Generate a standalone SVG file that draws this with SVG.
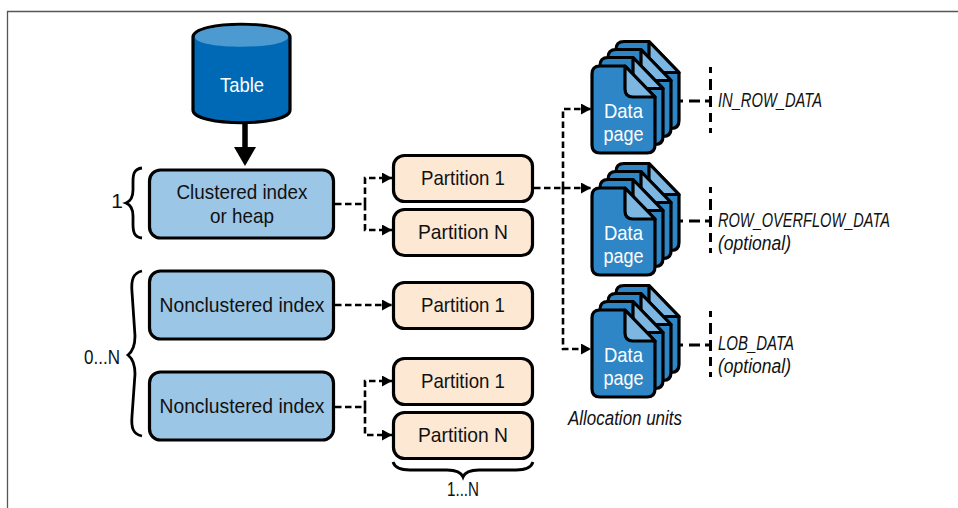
<svg xmlns="http://www.w3.org/2000/svg" width="958" height="508" viewBox="0 0 958 508">
<style>
text{font-family:"Liberation Sans","Noto Sans",sans-serif;font-size:21px;fill:#111;text-anchor:middle}
.w{fill:#fff}
.i{font-style:italic;text-anchor:start;font-size:20px}
.box{fill:#9cc6e6;stroke:#000;stroke-width:3.2}
.part{fill:#fde8d4;stroke:#000;stroke-width:3.2}
.c{fill:none;stroke:#000;stroke-width:2.6;stroke-dasharray:6.500 3.500}
.h{fill:none;stroke:#000;stroke-width:2.8;stroke-dasharray:3 6 11 5 5 99}
.b{fill:none;stroke:#000;stroke-width:2.8}
.tick{fill:none;stroke:#000;stroke-width:3;stroke-dasharray:6 6 11 6 11 6 9 6 5 99}
.pg{fill:#2e86c6;stroke:#000;stroke-width:3.2;stroke-linejoin:round}
.fold{fill:#7db6e0;stroke:#000;stroke-width:3.2;stroke-linejoin:round}
</style>
<defs>
<marker id="ah" markerUnits="userSpaceOnUse" markerWidth="11" markerHeight="12" refX="10" refY="5.500" orient="auto"><path d="M0 0L10 5.500L0 11Z" fill="#000"/></marker>
<g id="sheet">
<path class="pg" d="M600 66H625L655 97V145Q655 153 647 153H600Q592 153 592 145V74Q592 66 600 66Z"/>
<path class="fold" d="M625 66L655 97H633Q625 97 625 89Z"/>
</g>
<g id="stack">
<use href="#sheet" x="24" y="-24.500"/>
<use href="#sheet" x="16" y="-16.500"/>
<use href="#sheet" x="8" y="-8.500"/>
<use href="#sheet"/>
<text class="w" x="623.500" y="118" textLength="39" lengthAdjust="spacingAndGlyphs">Data</text>
<text class="w" x="623.500" y="141" textLength="40" lengthAdjust="spacingAndGlyphs">page</text>
</g>
</defs>
<rect width="958" height="508" fill="#fff"/>
<path id="frame" d="M7.500 508V11.500H958" fill="none" stroke="#555" stroke-width="1.300"/>

<g id="connectors">
<path d="M245 122V150" stroke="#000" stroke-width="5.500" fill="none"/>
<path d="M234 147H256L245 166Z" fill="#000"/>
<path class="c" d="M335 204H365"/>
<path class="c" d="M365 204V178H392" marker-end="url(#ah)"/>
<path class="c" d="M365 204V230H392" marker-end="url(#ah)"/>
<path class="c" d="M335 305H392" marker-end="url(#ah)"/>
<path class="c" d="M335 407H365"/>
<path class="c" d="M365 407V381H392" marker-end="url(#ah)"/>
<path class="c" d="M365 407V435H392" marker-end="url(#ah)"/>
<path class="c" d="M534 188H591" marker-end="url(#ah)"/>
<path class="c" d="M563 188V109H591" marker-end="url(#ah)"/>
<path class="c" d="M563 188V349H591" marker-end="url(#ah)"/>
<path class="h" d="M680 101H710"/>
<path class="h" d="M680 221H710"/>
<path class="h" d="M680 345H710"/>
<path class="tick" d="M710.500 67V135"/>
<path class="tick" d="M710.500 187V255"/>
<path class="tick" d="M710.500 311V379"/>
</g>

<g id="table">
<path d="M193 37C193 20 290 20 290 37V110C290 127 193 127 193 110Z" fill="#0069b5" stroke="#000" stroke-width="3.200"/>
<path d="M195 37C195 22 288 22 288 37C288 50 195 50 195 37Z" fill="#4d9ad0"/>
<text class="w" x="242" y="92" font-size="22" textLength="44" lengthAdjust="spacingAndGlyphs">Table</text>
</g>
<g id="clustered"><rect class="box" x="149.500" y="170" width="184" height="68" rx="11"/>
<text x="242" y="199" textLength="131" lengthAdjust="spacingAndGlyphs">Clustered index</text>
<text x="242" y="223" textLength="64" lengthAdjust="spacingAndGlyphs">or heap</text></g>
<g id="nc1"><rect class="box" x="149.500" y="271" width="184" height="68" rx="11"/>
<text x="242" y="312" textLength="165" lengthAdjust="spacingAndGlyphs">Nonclustered index</text></g>
<g id="nc2"><rect class="box" x="149.500" y="372" width="184" height="68" rx="11"/>
<text x="242" y="413" textLength="165" lengthAdjust="spacingAndGlyphs">Nonclustered index</text></g>

<g id="p1"><rect class="part" x="393.500" y="155.500" width="139" height="46" rx="11"/><text x="463" y="185" textLength="84" lengthAdjust="spacingAndGlyphs">Partition 1</text></g>
<g id="p2"><rect class="part" x="393.500" y="209.500" width="139" height="46" rx="11"/><text x="463" y="239" textLength="90" lengthAdjust="spacingAndGlyphs">Partition N</text></g>
<g id="p3"><rect class="part" x="393.500" y="282.500" width="139" height="46" rx="11"/><text x="463" y="312" textLength="84" lengthAdjust="spacingAndGlyphs">Partition 1</text></g>
<g id="p4"><rect class="part" x="393.500" y="358.500" width="139" height="46" rx="11"/><text x="463" y="388" textLength="84" lengthAdjust="spacingAndGlyphs">Partition 1</text></g>
<g id="p5"><rect class="part" x="393.500" y="412.500" width="139" height="46" rx="11"/><text x="463" y="442" textLength="90" lengthAdjust="spacingAndGlyphs">Partition N</text></g>

<g id="pages1"><use href="#stack"/></g>
<g id="pages2"><use href="#stack" y="122"/></g>
<g id="pages3"><use href="#stack" y="244"/></g>

<g id="braces">
<path class="b" d="M142 168C134 169 133 174 133 182V190C133 197 131 201 126 203C131 205 133 209 133 216V224C133 232 134 237 142 238"/>
<path class="b" d="M142 271C133 273 131 280 132 292L135 336C135 345 133 351 128 355C133 359 135 365 135 374L132 416C131 428 133 434 142 436"/>
<path class="b" d="M393 462C395 468 401 470 410 470H447C456 470 461 472 463 477C465 472 470 470 479 470H516C525 470 531 468 533 462"/>
</g>
<text id="l1" x="117" y="208" font-size="20">1</text>
<text id="l2" x="102" y="364" font-size="20" textLength="36" lengthAdjust="spacingAndGlyphs">0...N</text>
<text id="l3" x="463" y="496" font-size="20" textLength="32" lengthAdjust="spacingAndGlyphs">1...N</text>
<text id="u1" class="i" x="718" y="107" textLength="104" lengthAdjust="spacingAndGlyphs">IN_ROW_DATA</text>
<text id="u2" class="i" x="718" y="227" textLength="172" lengthAdjust="spacingAndGlyphs">ROW_OVERFLOW_DATA</text>
<text id="u2b" class="i" x="718" y="250" textLength="73" lengthAdjust="spacingAndGlyphs">(optional)</text>
<text id="u3" class="i" x="718" y="350" textLength="76" lengthAdjust="spacingAndGlyphs">LOB_DATA</text>
<text id="u3b" class="i" x="718" y="373" textLength="73" lengthAdjust="spacingAndGlyphs">(optional)</text>
<text id="alloc" class="i" x="568" y="425" textLength="114" lengthAdjust="spacingAndGlyphs">Allocation units</text>
</svg>
